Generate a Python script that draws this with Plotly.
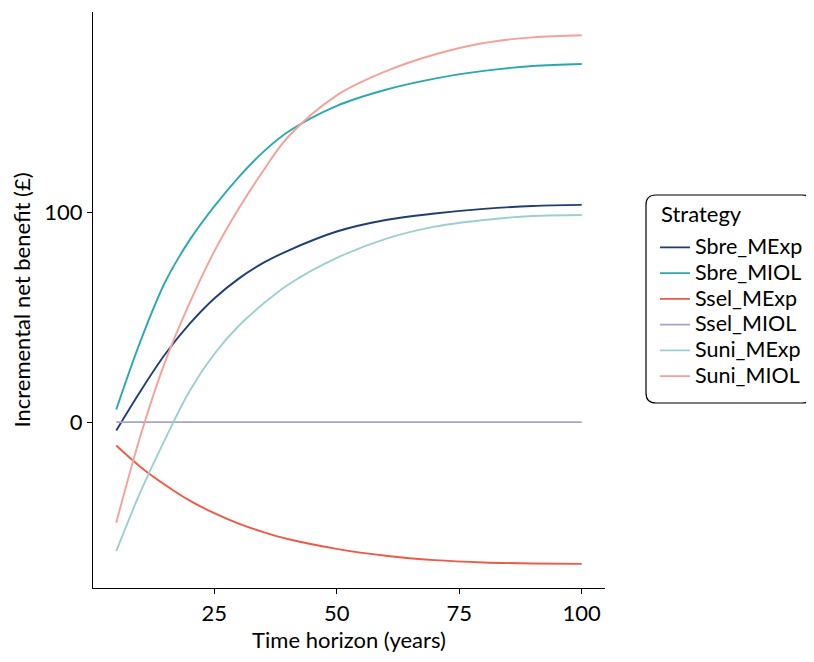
import plotly.graph_objects as go

years = [5, 10, 15, 20, 25, 30, 35, 40, 50, 60, 70, 80, 90, 100]

strategies = ["Sbre_MExp", "Sbre_MIOL", "Ssel_MExp", "Ssel_MIOL", "Suni_MExp", "Suni_MIOL"]
legend_title = "Strategy"

sbre_mexp = [-4, 15, 32.5, 47, 59, 68.5, 76, 81.8, 91, 96.5, 99.6, 101.8, 103.2, 103.7]
sbre_miol = [6, 39, 67, 87, 103, 117, 129, 138.5, 151, 158.7, 164, 167.7, 170, 171]
ssel_mexp = [-11.2, -21.5, -30, -37.5, -43.5, -48.5, -52.5, -55.8, -60.5, -63.8, -65.9, -67, -67.5, -67.7]
ssel_miol = [0, 0, 0, 0, 0, 0, 0, 0, 0, 0, 0, 0, 0, 0]
suni_mexp = [-61.6, -33, -8, 15, 32.5, 46, 56.5, 65.5, 78.4, 87.5, 93.3, 96.5, 98.4, 98.9]
suni_miol = [-48, -6, 29, 57, 81.5, 102, 120, 136, 156, 167.5, 175.5, 181, 183.7, 184.7]

series = [sbre_mexp, sbre_miol, ssel_mexp, ssel_miol, suni_mexp, suni_miol]
colors = ["#1f3f73", "#29aaad", "#ee5a45", "#a7a5c8", "#9dcfd0", "#f5a199"]

FONT = "Lato"
FS = 22
LEG_TEXT = 21.5      # rendered legend text size
LEG_ROW = 17.5       # legend font size that drives row spacing

# the page body adds an 8px offset; pixel targets below are screen positions
OFF = 8
W, H = 814, 662
PL, PR, PT, PB = 93, 605, 12, 588          # plot area on screen
ml, mr, mt, mb = PL - OFF, W - (PR - OFF), PT - OFF, H - (PB - OFF)

fig = go.Figure()
for name, vals, col in zip(strategies, series, colors):
    fig.add_trace(go.Scatter(
        x=years, y=vals, mode="lines",
        name=f"<span style='font-size:{LEG_TEXT}px'>{name}</span>",
        hovertemplate=f"{name}<br>%{{x}}: %{{y}}<extra></extra>",
        line=dict(color=col, width=1.9, shape="spline", smoothing=1.0),
    ))

def paper_x(sx):
    return (sx - PL) / (PR - PL)

def paper_y(sy):
    return (PB - sy) / (PB - PT)

fig.update_layout(
    width=W, height=H,
    margin=dict(l=ml, r=mr, t=mt, b=mb, autoexpand=False),
    paper_bgcolor="white", plot_bgcolor="white",
    font=dict(family=FONT, size=FS, color="black"),
    showlegend=True,
    legend=dict(
        font=dict(size=LEG_ROW, family=FONT, color="black"),
        x=paper_x(655), xanchor="left", y=paper_y(312), yanchor="middle",
        bgcolor="rgba(0,0,0,0)", borderwidth=0,
        tracegroupgap=0, itemwidth=30,
    ),
)

# legend title
fig.add_annotation(text=legend_title, x=paper_x(659), y=paper_y(213), xref="paper", yref="paper",
                   xanchor="left", yanchor="middle", showarrow=False,
                   font=dict(size=22, family=FONT, color="black"))

fig.update_xaxes(
    range=[0.25, 104.75], tickvals=[25, 50, 75, 100], ticktext=["25", "50", "75", "100"],
    showline=True, linecolor="black", linewidth=1.3, ticks="outside", ticklen=5,
    tickcolor="black", tickwidth=1.3, showgrid=False, zeroline=False, automargin=False,
    title=dict(text="Time horizon (years)", font=dict(size=FS, family=FONT), standoff=6),
    tickfont=dict(size=FS, family=FONT, color="black"),
)
fig.update_yaxes(
    range=[-79.2, 195.8], tickvals=[0, 100], ticktext=["0", "100"],
    showline=True, linecolor="black", linewidth=1.3, ticks="outside", ticklen=5,
    tickcolor="black", tickwidth=1.3, showgrid=False, zeroline=False, automargin=False,
    title=dict(text="Incremental net benefit (£)", font=dict(size=FS, family=FONT), standoff=8),
    tickfont=dict(size=FS, family=FONT, color="black"),
)

# rounded legend frame (screen pixel box converted to paper coordinates)
x0, x1, y0, y1, r = 646, 812, 195, 403, 10
tx, ty = paper_x, paper_y
path = (f"M {tx(x0+r)},{ty(y0)} L {tx(x1-r)},{ty(y0)} Q {tx(x1)},{ty(y0)} {tx(x1)},{ty(y0+r)} "
        f"L {tx(x1)},{ty(y1-r)} Q {tx(x1)},{ty(y1)} {tx(x1-r)},{ty(y1)} L {tx(x0+r)},{ty(y1)} "
        f"Q {tx(x0)},{ty(y1)} {tx(x0)},{ty(y1-r)} L {tx(x0)},{ty(y0+r)} Q {tx(x0)},{ty(y0)} {tx(x0+r)},{ty(y0)} Z")
fig.add_shape(type="path", path=path, xref="paper", yref="paper",
              line=dict(color="black", width=1.2), layer="above")

fig.write_html("out.html")
